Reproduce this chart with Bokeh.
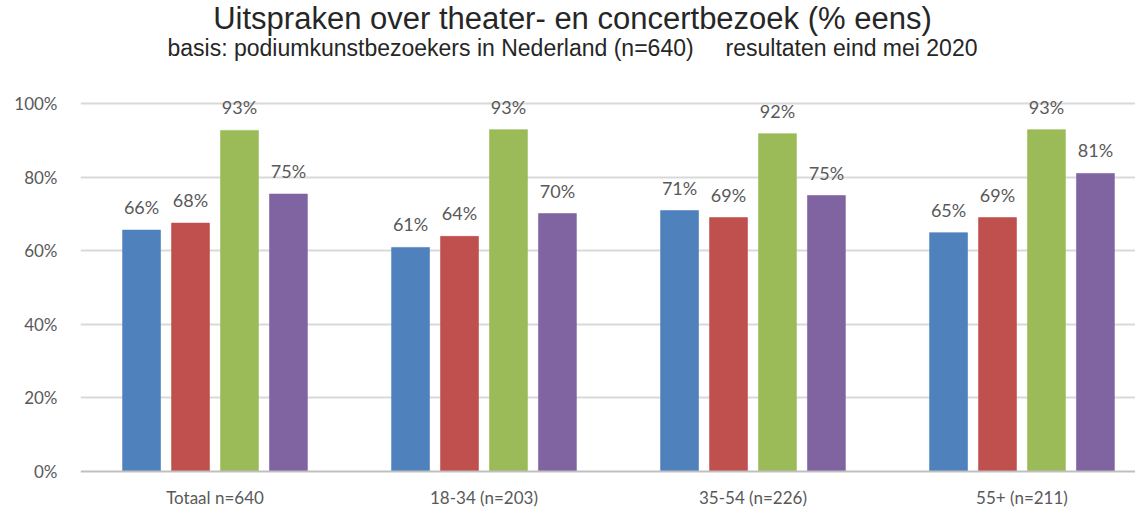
from bokeh.plotting import figure
from bokeh.models import ColumnDataSource, Range1d, FixedTicker, Label, LabelSet, Span
from bokeh.core.properties import value
from bokeh.embed import file_html
from bokeh.resources import INLINE

categories = ["Totaal n=640", "18-34 (n=203)", "35-54 (n=226)", "55+ (n=211)"]
series_names = ["uitspraak 1", "uitspraak 2", "uitspraak 3", "uitspraak 4"]
s1 = [65.6, 60.9, 70.9, 64.9]
s2 = [67.5, 63.9, 69.0, 69.0]
s3 = [92.7, 92.9, 91.8, 92.9]
s4 = [75.4, 70.1, 75.0, 81.0]
series = [s1, s2, s3, s4]
colors = ["#4F81BD", "#C0504D", "#9BBB59", "#8064A2"]
y_ticks = [0, 20, 40, 60, 80, 100]
title = "Uitspraken over theater- en concertbezoek (% eens)"
subtitle = "basis: podiumkunstbezoekers in Nederland (n=640)\u00a0\u00a0\u00a0\u00a0\u00a0resultaten eind mei 2020"

p = figure(width=1135, height=509, output_backend="svg", toolbar_location=None,
           x_range=Range1d(0, 3.922), y_range=Range1d(-10.33, 128.0),
           x_axis_location=None,
           min_border_left=80, min_border_right=0, min_border_bottom=0, min_border_top=0)
p.outline_line_color = None
p.background_fill_color = "white"
p.border_fill_color = "white"

FONT = "Lato"
step = 0.182
bw = 0.141
for i, (vals, col) in enumerate(zip(series, colors)):
    off = (i - 1.5) * step
    xs = [k + 0.5 + off for k in range(len(categories))]
    src = ColumnDataSource(dict(x=xs, top=vals,
                                lab=["%d%%" % round(v) for v in vals]))
    p.vbar(x="x", top="top", width=bw, bottom=0, source=src, fill_color=col,
           line_color=col, line_alpha=0.6, line_width=1)
    p.add_layout(LabelSet(x="x", y="top", text="lab", source=src, text_align="center",
                          text_baseline="bottom", y_offset=12, text_font=value(FONT),
                          text_font_size="18px", text_color="#595959"))

# category axis: baseline + category labels
p.add_layout(Span(location=0, dimension="width", line_color="#BFBFBF", line_width=2))
cat_src = ColumnDataSource(dict(x=[k + 0.5 for k in range(len(categories))],
                                y=[0] * len(categories), lab=categories))
p.add_layout(LabelSet(x="x", y="y", text="lab", source=cat_src, text_align="center",
                      text_baseline="middle", y_offset=-26, text_font=value(FONT),
                      text_font_size="17px", text_color="#595959"))

p.yaxis.ticker = FixedTicker(ticks=y_ticks)
p.yaxis.major_label_overrides = {t: "%d%%" % t for t in y_ticks}
p.yaxis.major_tick_line_color = None
p.yaxis.minor_tick_line_color = None
p.yaxis.axis_line_color = None
p.yaxis.major_label_text_font = FONT
p.yaxis.major_label_text_font_size = "17px"
p.yaxis.major_label_text_color = "#595959"
p.yaxis.major_label_standoff = 17

p.xgrid.grid_line_color = None
p.ygrid.grid_line_color = "#D9D9D9"
p.ygrid.grid_line_width = 2
p.ygrid.ticker = FixedTicker(ticks=[20, 40, 60, 80, 100])

p.add_layout(Label(x=1.829, y=123.1, text=title, text_align="center", text_baseline="middle",
                   text_font="Liberation Sans", text_font_size="31px", text_color="#262626"))
p.add_layout(Label(x=1.829, y=115.2, text=subtitle, text_align="center", text_baseline="middle",
                   text_font="Liberation Sans", text_font_size="23px", text_color="#262626"))

open("out.html", "w").write(file_html(p, INLINE))
